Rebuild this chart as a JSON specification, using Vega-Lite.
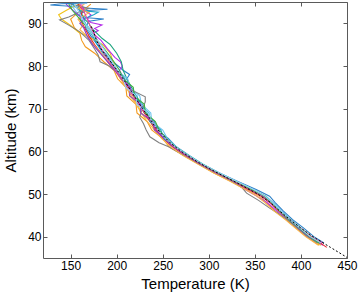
{
"$schema":"https://vega.github.io/schema/vega-lite/v6.json",
"width":304,"height":256,
"autosize":{"type":"none"},
"padding":{"left":43,"top":2,"right":13,"bottom":38},
"config":{"view":{"stroke":null},"font":"Liberation Sans",
"axis":{"domainColor":"#5a5a5a","tickColor":"#5a5a5a","tickSize":-4,"labelPadding":6,"labelFlush":false,"labelOverlap":false,"labelFontSize":12,"labelColor":"black","titleFontSize":15,"titleFontWeight":"normal","titleColor":"black","grid":false,"labelFont":"Liberation Sans","titleFont":"Liberation Sans"}},
"datasets":{
"d":[{"h":35,"T":451},{"h":37.5,"T":432},{"h":40,"T":413},{"h":42,"T":400},{"h":44,"T":388},{"h":46,"T":377},{"h":48,"T":367},{"h":50,"T":353},{"h":52,"T":336},{"h":54,"T":318},{"h":56,"T":300},{"h":58,"T":284},{"h":60,"T":270},{"h":62,"T":258},{"h":64,"T":249},{"h":66,"T":241},{"h":68,"T":235},{"h":70,"T":228},{"h":72,"T":222},{"h":74,"T":216},{"h":76,"T":210},{"h":78,"T":204},{"h":80,"T":197},{"h":82,"T":190},{"h":84,"T":183},{"h":86,"T":178},{"h":88,"T":175},{"h":89.5,"T":172}],
"p":[
{"s":"a","h":38.5,"T":425},{"s":"a","h":40,"T":414},{"s":"a","h":42,"T":403},{"s":"a","h":44,"T":391},{"s":"a","h":46,"T":381},{"s":"a","h":48,"T":372},{"s":"a","h":49.5,"T":366},{"s":"a","h":51,"T":352},{"s":"a","h":53,"T":331},{"s":"a","h":55,"T":311},{"s":"a","h":57,"T":293},{"s":"a","h":59,"T":279},{"s":"a","h":61,"T":265},{"s":"a","h":63,"T":256},{"s":"a","h":65,"T":244},{"s":"a","h":67,"T":241},{"s":"a","h":69,"T":230},{"s":"a","h":71,"T":228},{"s":"a","h":73,"T":218},{"s":"a","h":75,"T":214},{"s":"a","h":77,"T":211},{"s":"a","h":78,"T":214},{"s":"a","h":79,"T":207},{"s":"a","h":81,"T":196},{"s":"a","h":83,"T":187},{"s":"a","h":85,"T":179},{"s":"a","h":87,"T":172},{"s":"a","h":89,"T":166},{"s":"a","h":90.5,"T":170},{"s":"a","h":91,"T":186},{"s":"a","h":91.3,"T":168},{"s":"a","h":92,"T":158},{"s":"a","h":93,"T":168},{"s":"a","h":93.3,"T":190},{"s":"a","h":93.6,"T":165},{"s":"a","h":94,"T":150},{"s":"a","h":94.3,"T":128},{"s":"a","h":94.6,"T":140},{"s":"a","h":94.8,"T":168},
{"s":"b","h":38,"T":420},{"s":"b","h":40,"T":406},{"s":"b","h":42,"T":395},{"s":"b","h":44,"T":384},{"s":"b","h":46,"T":372},{"s":"b","h":48,"T":363},{"s":"b","h":49.5,"T":355},{"s":"b","h":51,"T":342},{"s":"b","h":53,"T":324},{"s":"b","h":55,"T":305},{"s":"b","h":57,"T":289},{"s":"b","h":59,"T":273},{"s":"b","h":61,"T":257},{"s":"b","h":63,"T":250},{"s":"b","h":65,"T":238},{"s":"b","h":67,"T":233},{"s":"b","h":69,"T":222},{"s":"b","h":71,"T":221},{"s":"b","h":73,"T":211},{"s":"b","h":75,"T":210},{"s":"b","h":77,"T":201},{"s":"b","h":79,"T":197},{"s":"b","h":81,"T":186},{"s":"b","h":83,"T":176},{"s":"b","h":84.5,"T":166},{"s":"b","h":86,"T":162},{"s":"b","h":87.7,"T":160},{"s":"b","h":89,"T":154},{"s":"b","h":91,"T":150},{"s":"b","h":92.5,"T":158},{"s":"b","h":93.5,"T":166},{"s":"b","h":94.5,"T":172},
{"s":"c","h":38,"T":422},{"s":"c","h":40,"T":408},{"s":"c","h":42,"T":397},{"s":"c","h":44,"T":386},{"s":"c","h":46,"T":376},{"s":"c","h":48,"T":369},{"s":"c","h":49.5,"T":362},{"s":"c","h":51,"T":348},{"s":"c","h":53,"T":328},{"s":"c","h":55,"T":309},{"s":"c","h":57,"T":292},{"s":"c","h":59,"T":277},{"s":"c","h":61,"T":263},{"s":"c","h":63,"T":254},{"s":"c","h":65,"T":241},{"s":"c","h":67,"T":237},{"s":"c","h":69,"T":226},{"s":"c","h":71,"T":223},{"s":"c","h":73,"T":214},{"s":"c","h":75,"T":213},{"s":"c","h":77,"T":204},{"s":"c","h":79,"T":200},{"s":"c","h":81,"T":196},{"s":"c","h":83,"T":193},{"s":"c","h":85,"T":185},{"s":"c","h":86.8,"T":170},{"s":"c","h":88,"T":158},{"s":"c","h":89.5,"T":150},{"s":"c","h":91,"T":140},{"s":"c","h":92,"T":137},{"s":"c","h":93,"T":145},{"s":"c","h":93.8,"T":152},{"s":"c","h":94.5,"T":160},
{"s":"d","h":38,"T":424},{"s":"d","h":40,"T":409},{"s":"d","h":42,"T":398},{"s":"d","h":44,"T":386},{"s":"d","h":46,"T":374},{"s":"d","h":48,"T":363},{"s":"d","h":49.5,"T":352},{"s":"d","h":51,"T":340},{"s":"d","h":53,"T":325},{"s":"d","h":55,"T":307},{"s":"d","h":57,"T":290},{"s":"d","h":59,"T":275},{"s":"d","h":61,"T":261},{"s":"d","h":63,"T":251},{"s":"d","h":65,"T":243},{"s":"d","h":67,"T":237},{"s":"d","h":69,"T":231},{"s":"d","h":71,"T":225},{"s":"d","h":73,"T":219},{"s":"d","h":75,"T":214},{"s":"d","h":77,"T":208},{"s":"d","h":79,"T":203},{"s":"d","h":80,"T":206},{"s":"d","h":81,"T":204},{"s":"d","h":82,"T":198},{"s":"d","h":84,"T":190},{"s":"d","h":86,"T":183},{"s":"d","h":87.7,"T":174},{"s":"d","h":88.3,"T":180},{"s":"d","h":88.8,"T":176},{"s":"d","h":89.6,"T":184},{"s":"d","h":90.2,"T":172},{"s":"d","h":91,"T":168},{"s":"d","h":92,"T":172},{"s":"d","h":93,"T":165},{"s":"d","h":94.5,"T":162},
{"s":"e","h":38.5,"T":421},{"s":"e","h":40,"T":411},{"s":"e","h":42,"T":400},{"s":"e","h":44,"T":389},{"s":"e","h":46,"T":378},{"s":"e","h":48,"T":368},{"s":"e","h":49.5,"T":359},{"s":"e","h":51,"T":346},{"s":"e","h":53,"T":328},{"s":"e","h":55,"T":309},{"s":"e","h":57,"T":292},{"s":"e","h":59,"T":277},{"s":"e","h":61,"T":263},{"s":"e","h":63,"T":253},{"s":"e","h":65,"T":246},{"s":"e","h":67,"T":239},{"s":"e","h":69,"T":233},{"s":"e","h":71,"T":227},{"s":"e","h":73,"T":221},{"s":"e","h":75,"T":216},{"s":"e","h":77,"T":211},{"s":"e","h":79,"T":207},{"s":"e","h":81,"T":205},{"s":"e","h":83,"T":200},{"s":"e","h":85,"T":193},{"s":"e","h":86.5,"T":184},{"s":"e","h":88,"T":177},{"s":"e","h":89,"T":172},{"s":"e","h":90,"T":170},{"s":"e","h":91,"T":165},{"s":"e","h":93,"T":160},{"s":"e","h":94.5,"T":158},
{"s":"f","h":38.5,"T":423},{"s":"f","h":40,"T":410},{"s":"f","h":42,"T":400},{"s":"f","h":44,"T":389},{"s":"f","h":46,"T":379},{"s":"f","h":48,"T":370},{"s":"f","h":49.5,"T":362},{"s":"f","h":51,"T":349},{"s":"f","h":53,"T":330},{"s":"f","h":55,"T":311},{"s":"f","h":57,"T":294},{"s":"f","h":59,"T":279},{"s":"f","h":61,"T":265},{"s":"f","h":63,"T":255},{"s":"f","h":65,"T":250},{"s":"f","h":67,"T":238},{"s":"f","h":69,"T":237},{"s":"f","h":71,"T":227},{"s":"f","h":73,"T":225},{"s":"f","h":75,"T":214},{"s":"f","h":77,"T":212},{"s":"f","h":79,"T":200},{"s":"f","h":81,"T":194},{"s":"f","h":83,"T":186},{"s":"f","h":85,"T":181},{"s":"f","h":87,"T":176},{"s":"f","h":89,"T":170},{"s":"f","h":91,"T":162},{"s":"f","h":93,"T":155},{"s":"f","h":94.5,"T":150},
{"s":"g","h":37.5,"T":428},{"s":"g","h":40,"T":411},{"s":"g","h":42,"T":399},{"s":"g","h":44,"T":387},{"s":"g","h":46,"T":376},{"s":"g","h":48,"T":366},{"s":"g","h":49.5,"T":357},{"s":"g","h":51,"T":344},{"s":"g","h":53,"T":326},{"s":"g","h":55,"T":307},{"s":"g","h":57,"T":290},{"s":"g","h":59,"T":275},{"s":"g","h":61,"T":261},{"s":"g","h":63,"T":251},{"s":"g","h":65,"T":243},{"s":"g","h":67,"T":236},{"s":"g","h":69,"T":230},{"s":"g","h":71,"T":224},{"s":"g","h":73,"T":218},{"s":"g","h":75,"T":212},{"s":"g","h":77,"T":205},{"s":"g","h":79,"T":198},{"s":"g","h":81,"T":190},{"s":"g","h":83,"T":183},{"s":"g","h":85,"T":176},{"s":"g","h":87,"T":170},{"s":"g","h":89,"T":165},{"s":"g","h":91,"T":160},{"s":"g","h":93,"T":163},{"s":"g","h":94.5,"T":158},
{"s":"h","h":38.5,"T":418},{"s":"h","h":40,"T":407},{"s":"h","h":42,"T":396},{"s":"h","h":44,"T":385},{"s":"h","h":45.5,"T":375},{"s":"h","h":46.7,"T":366},{"s":"h","h":48.5,"T":354},{"s":"h","h":50.2,"T":341},{"s":"h","h":51.5,"T":336},{"s":"h","h":53,"T":325},{"s":"h","h":55,"T":306},{"s":"h","h":57,"T":289},{"s":"h","h":59,"T":273},{"s":"h","h":61,"T":257},{"s":"h","h":62,"T":246},{"s":"h","h":63.4,"T":236},{"s":"h","h":65,"T":232},{"s":"h","h":66.5,"T":229},{"s":"h","h":68,"T":225},{"s":"h","h":70,"T":228},{"s":"h","h":71.6,"T":231},{"s":"h","h":72.8,"T":231},{"s":"h","h":74.4,"T":216},{"s":"h","h":76,"T":210},{"s":"h","h":78,"T":203},{"s":"h","h":80,"T":192},{"s":"h","h":81,"T":182},{"s":"h","h":82.5,"T":180},{"s":"h","h":84,"T":176},{"s":"h","h":86,"T":170},{"s":"h","h":88,"T":160},{"s":"h","h":89.7,"T":147},{"s":"h","h":90.8,"T":138},{"s":"h","h":91.5,"T":148},{"s":"h","h":92.5,"T":158},{"s":"h","h":93.5,"T":170},{"s":"h","h":94.5,"T":150},
{"s":"i","h":38.5,"T":420},{"s":"i","h":40,"T":409},{"s":"i","h":42,"T":398},{"s":"i","h":44,"T":388},{"s":"i","h":46,"T":378},{"s":"i","h":48,"T":369},{"s":"i","h":49.5,"T":361},{"s":"i","h":51,"T":348},{"s":"i","h":53,"T":329},{"s":"i","h":55,"T":310},{"s":"i","h":57,"T":293},{"s":"i","h":59,"T":278},{"s":"i","h":61,"T":264},{"s":"i","h":63,"T":251},{"s":"i","h":65,"T":248},{"s":"i","h":67,"T":236},{"s":"i","h":69,"T":235},{"s":"i","h":71,"T":223},{"s":"i","h":73,"T":222},{"s":"i","h":75,"T":210},{"s":"i","h":77,"T":209},{"s":"i","h":79,"T":200},{"s":"i","h":81,"T":193},{"s":"i","h":83,"T":185},{"s":"i","h":85,"T":179},{"s":"i","h":87,"T":174},{"s":"i","h":89,"T":168},{"s":"i","h":91,"T":164},{"s":"i","h":92,"T":175},{"s":"i","h":92.6,"T":180},{"s":"i","h":93,"T":160},{"s":"i","h":94.5,"T":152},
{"s":"j","h":38,"T":419},{"s":"j","h":40,"T":405},{"s":"j","h":42,"T":394},{"s":"j","h":44,"T":383},{"s":"j","h":46,"T":371},{"s":"j","h":48,"T":361},{"s":"j","h":49.5,"T":352},{"s":"j","h":51,"T":340},{"s":"j","h":53,"T":323},{"s":"j","h":55,"T":305},{"s":"j","h":57,"T":288},{"s":"j","h":59,"T":272},{"s":"j","h":61,"T":259},{"s":"j","h":63,"T":249},{"s":"j","h":65,"T":241},{"s":"j","h":67,"T":233},{"s":"j","h":69,"T":227},{"s":"j","h":71,"T":221},{"s":"j","h":73,"T":216},{"s":"j","h":75,"T":210},{"s":"j","h":77,"T":204},{"s":"j","h":79,"T":198},{"s":"j","h":81,"T":191},{"s":"j","h":83,"T":183},{"s":"j","h":85,"T":175},{"s":"j","h":87,"T":168},{"s":"j","h":88.5,"T":160},{"s":"j","h":89.5,"T":163},{"s":"j","h":91,"T":158},{"s":"j","h":92.5,"T":170},{"s":"j","h":93.5,"T":158},{"s":"j","h":94.5,"T":165},
{"s":"k","h":38.5,"T":421},{"s":"k","h":40,"T":408},{"s":"k","h":42,"T":397},{"s":"k","h":44,"T":387},{"s":"k","h":46,"T":377},{"s":"k","h":48,"T":367},{"s":"k","h":49.5,"T":358},{"s":"k","h":51,"T":345},{"s":"k","h":53,"T":327},{"s":"k","h":55,"T":308},{"s":"k","h":57,"T":291},{"s":"k","h":59,"T":276},{"s":"k","h":61,"T":262},{"s":"k","h":63,"T":252},{"s":"k","h":65,"T":241},{"s":"k","h":67,"T":239},{"s":"k","h":69,"T":226},{"s":"k","h":71,"T":226},{"s":"k","h":73,"T":214},{"s":"k","h":75,"T":215},{"s":"k","h":77,"T":205},{"s":"k","h":79,"T":198},{"s":"k","h":81,"T":190},{"s":"k","h":83,"T":182},{"s":"k","h":85,"T":174},{"s":"k","h":87,"T":168},{"s":"k","h":89,"T":164},{"s":"k","h":90,"T":160},{"s":"k","h":91,"T":165},{"s":"k","h":92,"T":158},{"s":"k","h":93.5,"T":150},{"s":"k","h":94.5,"T":145},
{"s":"l","h":38.5,"T":424},{"s":"l","h":40,"T":410},{"s":"l","h":42,"T":399},{"s":"l","h":44,"T":388},{"s":"l","h":46,"T":377},{"s":"l","h":48,"T":367},{"s":"l","h":49.5,"T":359},{"s":"l","h":51,"T":346},{"s":"l","h":53,"T":328},{"s":"l","h":55,"T":309},{"s":"l","h":57,"T":292},{"s":"l","h":59,"T":277},{"s":"l","h":61,"T":263},{"s":"l","h":63,"T":253},{"s":"l","h":65,"T":245},{"s":"l","h":67,"T":238},{"s":"l","h":69,"T":231},{"s":"l","h":71,"T":224},{"s":"l","h":73,"T":218},{"s":"l","h":75,"T":212},{"s":"l","h":77,"T":206},{"s":"l","h":79,"T":199},{"s":"l","h":81,"T":192},{"s":"l","h":83,"T":186},{"s":"l","h":85,"T":181},{"s":"l","h":87,"T":177},{"s":"l","h":89,"T":172},{"s":"l","h":91,"T":168},{"s":"l","h":93,"T":164},{"s":"l","h":94.5,"T":160},
{"s":"m","h":38.5,"T":420},{"s":"m","h":40,"T":409},{"s":"m","h":42,"T":398},{"s":"m","h":44,"T":387},{"s":"m","h":46,"T":377},{"s":"m","h":48,"T":368},{"s":"m","h":49.5,"T":360},{"s":"m","h":51,"T":347},{"s":"m","h":53,"T":329},{"s":"m","h":55,"T":310},{"s":"m","h":57,"T":293},{"s":"m","h":59,"T":278},{"s":"m","h":61,"T":264},{"s":"m","h":63,"T":254},{"s":"m","h":65,"T":246},{"s":"m","h":67,"T":242},{"s":"m","h":69,"T":231},{"s":"m","h":71,"T":230},{"s":"m","h":73,"T":219},{"s":"m","h":75,"T":218},{"s":"m","h":77,"T":207},{"s":"m","h":79,"T":203},{"s":"m","h":81,"T":197},{"s":"m","h":83,"T":190},{"s":"m","h":85,"T":183},{"s":"m","h":87,"T":175},{"s":"m","h":89,"T":168},{"s":"m","h":91,"T":160},{"s":"m","h":93,"T":152},{"s":"m","h":94.5,"T":148},
{"s":"n","h":38.5,"T":422},{"s":"n","h":40,"T":410},{"s":"n","h":42,"T":399},{"s":"n","h":44,"T":388},{"s":"n","h":46,"T":378},{"s":"n","h":48,"T":369},{"s":"n","h":49.5,"T":361},{"s":"n","h":51,"T":349},{"s":"n","h":53,"T":330},{"s":"n","h":55,"T":311},{"s":"n","h":57,"T":293},{"s":"n","h":59,"T":278},{"s":"n","h":61,"T":264},{"s":"n","h":63,"T":253},{"s":"n","h":65,"T":245},{"s":"n","h":67,"T":238},{"s":"n","h":69,"T":234},{"s":"n","h":71,"T":222},{"s":"n","h":73,"T":221},{"s":"n","h":75,"T":210},{"s":"n","h":77,"T":207},{"s":"n","h":79,"T":201},{"s":"n","h":81,"T":195},{"s":"n","h":83,"T":189},{"s":"n","h":85,"T":183},{"s":"n","h":87,"T":175},{"s":"n","h":89,"T":168},{"s":"n","h":91,"T":163},{"s":"n","h":93,"T":158},{"s":"n","h":94.5,"T":154}
]},
"layer":[
{"data":{"name":"p"},"mark":{"type":"line","strokeWidth":1.1,"clip":true},
"encoding":{
"x":{"field":"T","type":"quantitative","scale":{"domain":[120,450],"nice":false,"zero":false},"axis":{"orient":"bottom","values":[150,200,250,300,350,400,450],"title":"Temperature (K)","titlePadding":5}},
"y":{"field":"h","type":"quantitative","scale":{"domain":[35,95],"nice":false,"zero":false},"axis":{"orient":"left","values":[40,50,60,70,80,90],"title":"Altitude (km)","titlePadding":9}},
"color":{"field":"s","type":"nominal","legend":null,"scale":{"domain":["a","b","c","d","e","f","g","h","i","j","k","l","m","n"],"range":["#2b7fc8","#f39a1f","#f2c318","#b52ee8","#1ea47e","#6cc4ee","#e3262e","#808080","#17a2c8","#f7b24a","#8a3ccf","#e84a9a","#3cb043","#9ad0f5"]}},
"order":{"value":null}}},
{"data":{"name":"d"},"mark":{"type":"line","color":"black","strokeWidth":1,"strokeDash":[2,2],"clip":true},
"encoding":{"x":{"field":"T","type":"quantitative","scale":{"domain":[120,450],"nice":false,"zero":false},"axis":null},"y":{"field":"h","type":"quantitative","scale":{"domain":[35,95],"nice":false,"zero":false},"axis":null},"order":{"value":null}}},
{"data":{"name":"d"},"mark":{"type":"line","opacity":0,"clip":true},
"encoding":{"x":{"field":"T","type":"quantitative","scale":{"domain":[120,450],"nice":false,"zero":false},"axis":{"orient":"top","values":[150,200,250,300,350,400,450],"labels":false,"title":null}},"y":{"field":"h","type":"quantitative","scale":{"domain":[35,95],"nice":false,"zero":false},"axis":{"orient":"right","values":[40,50,60,70,80,90],"labels":false,"title":null}}}}
],
"resolve":{"axis":{"x":"independent","y":"independent"}}
}
